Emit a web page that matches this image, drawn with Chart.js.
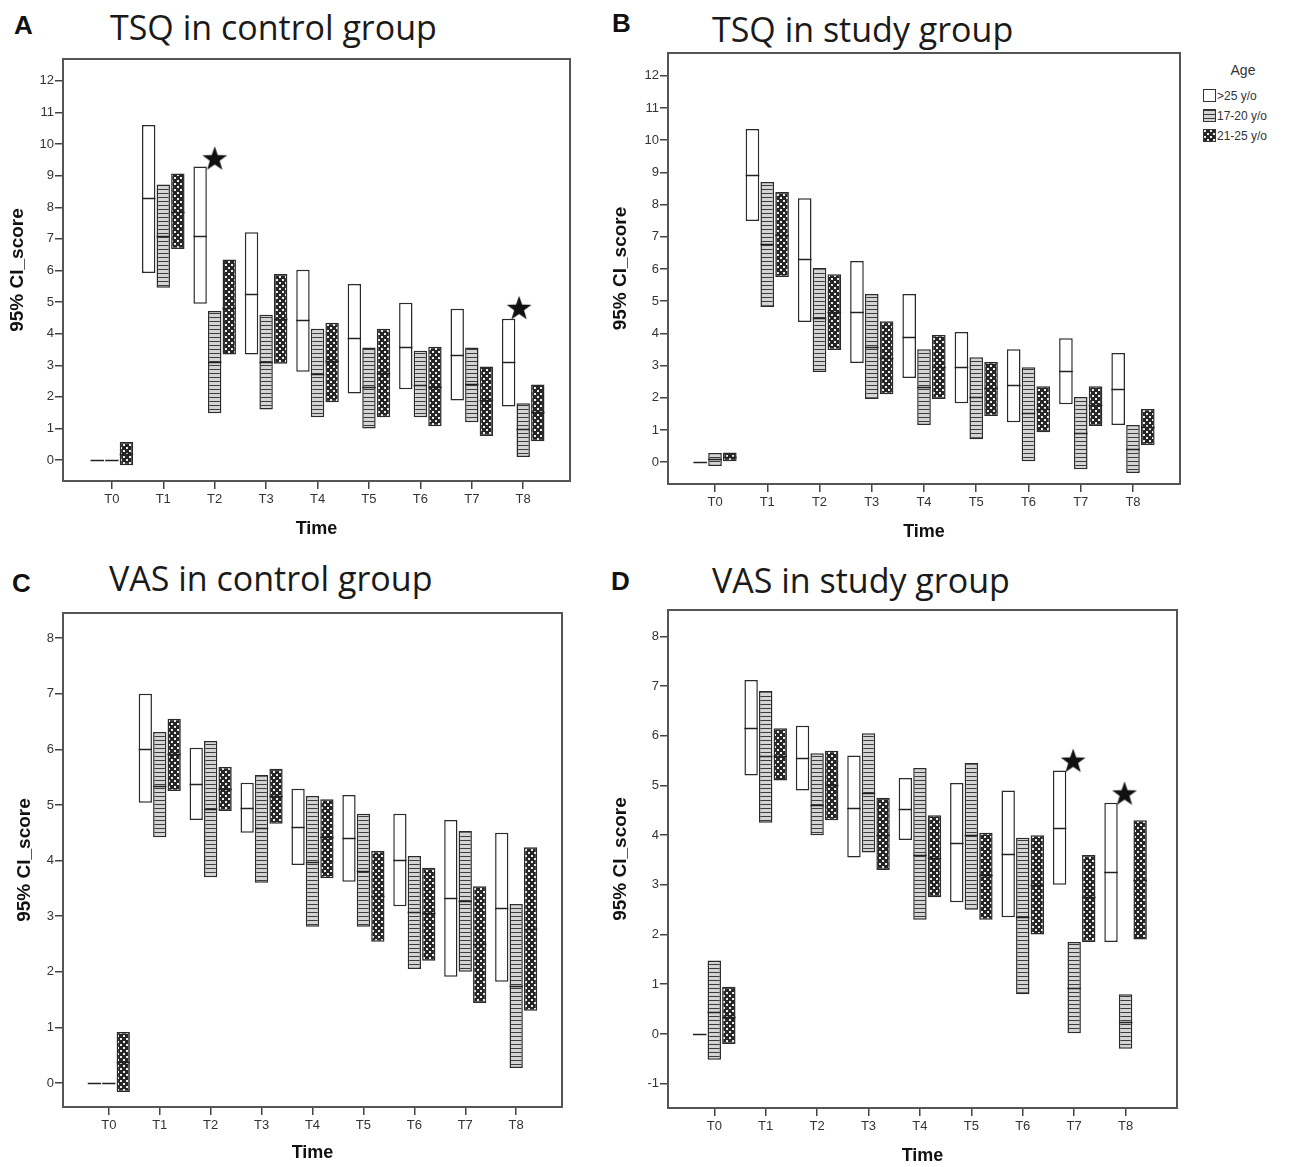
<!DOCTYPE html>
<html>
<head>
<meta charset="utf-8">
<script src="https://cdn.jsdelivr.net/npm/chart.js@4.4.0/dist/chart.umd.min.js"></script>
<style>
  body { margin: 0; width: 1291px; height: 1167px; background: #fff; position: relative; overflow: hidden; }
  canvas { position: absolute; }
  .letter { position: absolute; font: bold 26px 'Liberation Sans', Arial, sans-serif; line-height: 26px; color: #111; }
  .title { position: absolute; font: 34px 'Open Sans', sans-serif; line-height: 34px; color: #1a1a1a; white-space: nowrap; }
  #legend { position: absolute; left: 1203px; top: 62px; font: 12px 'Liberation Sans', Arial, sans-serif; color: #333; }
  #legend .head { font-size: 14px; text-align: center; width: 80px; margin-bottom: 11px; }
  #legend .row { height: 20px; line-height: 14px; white-space: nowrap; }
  #legend .sw { display: inline-block; width: 11px; height: 11px; border: 1px solid #333; vertical-align: -2px; margin-right: 1px; }
</style>
</head>
<body>
<div class="letter" style="left:14px;top:12px">A</div>
<div class="title" style="left:110px;top:10px">TSQ in control group</div>
<div class="letter" style="left:612px;top:10px">B</div>
<div class="title" style="left:712px;top:12px">TSQ in study group</div>
<div class="letter" style="left:12px;top:570px">C</div>
<div class="title" style="left:109px;top:561px">VAS in control group</div>
<div class="letter" style="left:611px;top:568px">D</div>
<div class="title" style="left:712px;top:563px">VAS in study group</div>

<canvas id="cA" width="600" height="500" style="left:0;top:45px"></canvas>
<canvas id="cB" width="600" height="504" style="left:600px;top:41px"></canvas>
<canvas id="cC" width="600" height="567" style="left:0;top:600px"></canvas>
<canvas id="cD" width="600" height="571" style="left:600px;top:596px"></canvas>

<div id="legend">
  <div class="head">Age</div>
  <div class="row"><span class="sw" id="sw0"></span><span id="lg0"></span></div>
  <div class="row"><span class="sw" id="sw1"></span><span id="lg1"></span></div>
  <div class="row"><span class="sw" id="sw2"></span><span id="lg2"></span></div>
</div>

<script>
// categories
const timeLabels = ['T0', 'T1', 'T2', 'T3', 'T4', 'T5', 'T6', 'T7', 'T8'];
const timePoints = [0, 1, 2, 3, 4, 5, 6, 7, 8];
const ageGroups = ['>25 y/o', '17-20 y/o', '21-25 y/o'];

// tick labels
const tsqTicks = [0, 1, 2, 3, 4, 5, 6, 7, 8, 9, 10, 11, 12];
const vasCtrlTicks = [0, 1, 2, 3, 4, 5, 6, 7, 8];
const vasStudyTicks = [-1, 0, 1, 2, 3, 4, 5, 6, 7, 8];

// A: TSQ in control group, 95% CI [low, high] and mean
const tsqCtrlOver25 = [[0, 0], [5.92, 10.6], [4.95, 9.29], [3.34, 7.21], [2.8, 6.02], [2.11, 5.57], [2.24, 4.98], [1.89, 4.79], [1.7, 4.47]];
const tsqCtrlOver25Mean = [0, 8.28, 7.09, 5.26, 4.44, 3.87, 3.59, 3.34, 3.09];
const tsqCtrl1720 = [[0, 0], [5.45, 8.72], [1.48, 4.72], [1.6, 4.6], [1.36, 4.16], [1.0, 3.56], [1.36, 3.46], [1.2, 3.56], [0.1, 1.8]];
const tsqCtrl1720Mean = [0, 7.09, 3.09, 3.09, 2.74, 2.31, 2.39, 2.42, 0.98];
const tsqCtrl2125 = [[-0.16, 0.57], [6.68, 9.07], [3.34, 6.35], [3.05, 5.89], [1.83, 4.35], [1.36, 4.16], [1.07, 3.59], [0.76, 2.96], [0.6, 2.39]];
const tsqCtrl2125Mean = [0.2, 7.85, 4.82, 4.47, 3.15, 2.77, 2.3, 1.89, 1.51];
const tsqCtrlStarX = [2, 7.92];
const tsqCtrlStarY = [9.55, 4.82];

// B: TSQ in study group
const tsqStudyOver25 = [[0, 0], [7.49, 10.35], [4.35, 8.2], [3.08, 6.25], [2.61, 5.22], [1.83, 4.04], [1.24, 3.51], [1.8, 3.85], [1.15, 3.39]];
const tsqStudyOver25Mean = [0, 8.92, 6.3, 4.66, 3.89, 2.95, 2.39, 2.83, 2.27];
const tsqStudy1720 = [[-0.12, 0.28], [4.82, 8.7], [2.8, 6.03], [1.96, 5.22], [1.15, 3.51], [0.71, 3.26], [0.03, 2.95], [-0.22, 2.02], [-0.34, 1.15]];
const tsqStudy1720Mean = [0.1, 6.77, 4.48, 3.58, 2.33, 2.02, 1.52, 0.9, 0.4];
const tsqStudy2125 = [[0.0, 0.3], [5.75, 8.39], [3.48, 5.84], [2.11, 4.38], [1.96, 3.95], [1.43, 3.11], [0.93, 2.36], [1.12, 2.36], [0.53, 1.65]];
const tsqStudy2125Mean = [0.15, 7.06, 4.66, 3.23, 2.95, 2.3, 1.65, 1.77, 1.09];

// C: VAS in control group
const vasCtrlOver25 = [[0, 0], [5.04, 7.0], [4.73, 6.03], [4.5, 5.4], [3.92, 5.29], [3.62, 5.18], [3.18, 4.84], [1.91, 4.73], [1.82, 4.5]];
const vasCtrlOver25Mean = [0, 6.01, 5.38, 4.95, 4.6, 4.41, 4.01, 3.33, 3.15];
const vasCtrl1720 = [[0, 0], [4.42, 6.31], [3.7, 6.15], [3.6, 5.54], [2.81, 5.16], [2.81, 4.84], [2.05, 4.08], [2.0, 4.53], [0.27, 3.22]];
const vasCtrl1720Mean = [0, 5.34, 4.93, 4.59, 3.97, 3.81, 3.08, 3.27, 1.74];
const vasCtrl2125 = [[-0.16, 0.92], [5.25, 6.55], [4.89, 5.68], [4.66, 5.65], [3.68, 5.1], [2.54, 4.17], [2.2, 3.87], [1.44, 3.54], [1.3, 4.24]];
const vasCtrl2125Mean = [0.38, 5.92, 5.29, 5.16, 4.42, 3.37, 3.06, 2.5, 2.77];

// D: VAS in study group
const vasStudyOver25 = [[0, 0], [5.2, 7.12], [4.9, 6.2], [3.55, 5.6], [3.9, 5.15], [2.65, 5.05], [2.35, 4.9], [3.0, 5.3], [1.85, 4.65]];
const vasStudyOver25Mean = [0, 6.15, 5.55, 4.55, 4.52, 3.85, 3.62, 4.15, 3.25];
const vasStudy1720 = [[-0.52, 1.48], [4.25, 6.9], [4.0, 5.65], [3.65, 6.05], [2.3, 5.35], [2.5, 5.45], [0.8, 3.95], [0.0, 1.85], [-0.3, 0.8]];
const vasStudy1720Mean = [0.45, 5.6, 4.6, 4.85, 3.6, 4.0, 2.35, 0.92, 0.25];
const vasStudy2125 = [[-0.2, 0.95], [5.1, 6.15], [4.3, 5.7], [3.3, 4.75], [2.75, 4.4], [2.3, 4.05], [2.0, 4.0], [1.85, 3.6], [1.9, 4.3]];
const vasStudy2125Mean = [0.35, 5.6, 5.0, 4.0, 3.55, 3.2, 3.0, 2.75, 3.1];
const vasStudyStarX = [6.98, 7.98];
const vasStudyStarY = [5.5, 4.84];

// fill patterns (white, horizontal stripes, checks)
function tile(w, h, draw) {
    const c = document.createElement('canvas');
    c.width = w; c.height = h;
    draw(c.getContext('2d'));
    return c;
}
const stripeTile = tile(4, 4, g => {
    g.fillStyle = '#d4d4d4'; g.fillRect(0, 0, 4, 4);
    g.fillStyle = '#3c3c3c'; g.fillRect(0, 0, 4, 1);
});
const checkTile = tile(6, 6, g => {
    g.fillStyle = '#262626'; g.fillRect(0, 0, 6, 6);
    g.fillStyle = '#eeeeee'; g.fillRect(0, 0, 2, 2); g.fillRect(3, 3, 2, 2);
});
const pctx = document.createElement('canvas').getContext('2d');
const fills = ['#ffffff', pctx.createPattern(stripeTile, 'repeat'), pctx.createPattern(checkTile, 'repeat')];

const starImg = tile(26, 26, g => {
    g.fillStyle = '#111';
    g.beginPath();
    for (let i = 0; i < 10; i++) {
        const r = i % 2 ? 5.2 : 13;
        const a = -Math.PI / 2 + i * Math.PI / 5;
        g.lineTo(13 + r * Math.cos(a), 14 + r * Math.sin(a));
    }
    g.closePath();
    g.fill();
});

// legend
ageGroups.forEach((name, i) => {
    document.getElementById('lg' + i).textContent = name;
    const sw = document.getElementById('sw' + i);
    sw.style.background = i === 0 ? '#fff' : 'url(' + (i === 1 ? stripeTile : checkTile).toDataURL() + ')';
});

// mean line inside each CI box, and the frame around the plot
const meanLines = {
    id: 'meanLines',
    afterDatasetsDraw(chart) {
        const ctx = chart.ctx;
        const yScale = chart.scales.y;
        ctx.save();
        ctx.strokeStyle = '#222';
        ctx.lineWidth = 1.5;
        chart.data.datasets.forEach((ds, i) => {
            if (!ds.means) return;
            chart.getDatasetMeta(i).data.forEach((bar, j) => {
                const py = Math.round(yScale.getPixelForValue(ds.means[j])) + 0.5;
                ctx.beginPath();
                ctx.moveTo(bar.x - bar.width / 2, py);
                ctx.lineTo(bar.x + bar.width / 2, py);
                ctx.stroke();
            });
        });
        ctx.restore();
    },
    afterDraw(chart) {
        const a = chart.chartArea;
        const ctx = chart.ctx;
        ctx.save();
        ctx.strokeStyle = '#555';
        ctx.lineWidth = 2;
        ctx.strokeRect(a.left, a.top, a.right - a.left, a.bottom - a.top);
        ctx.restore();
    }
};

function makeChart(id, series, means, starX, starY, yTicks, lay) {
    const datasets = series.map((s, k) => ({
        label: ageGroups[k],
        data: s.map((r, i) => ({ x: timePoints[i], y: r })),
        means: means[k],
        backgroundColor: fills[k],
        borderColor: '#2a2a2a',
        borderWidth: 1.5,
        borderSkipped: false,
        categoryPercentage: 0.85,
        barPercentage: 0.92
    }));
    if (starX) {
        datasets.push({
            type: 'scatter',
            data: starX.map((x, i) => ({ x: x, y: starY[i] })),
            pointStyle: starImg,
            pointRadius: 13
        });
    }
    const tickFont = { family: "'Liberation Sans', Arial, sans-serif", size: 13 };
    const titleFont = { family: "'Liberation Sans', Arial, sans-serif", size: 18, weight: 'bold' };
    const yTitleFont = { family: "'Liberation Sans', Arial, sans-serif", size: 19, weight: 'bold' };
    return new Chart(document.getElementById(id), {
        type: 'bar',
        data: { datasets },
        options: {
            responsive: false,
            animation: false,
            events: [],
            layout: { padding: { top: lay.top, right: lay.right, left: 0, bottom: 0 } },
            plugins: { legend: { display: false }, tooltip: { enabled: false } },
            scales: {
                x: {
                    type: 'linear',
                    min: lay.xMin, max: lay.xMax,
                    offset: false,
                    afterBuildTicks: s => { s.ticks = timePoints.map(v => ({ value: v })); },
                    afterFit: s => { s.height = lay.xh; },
                    ticks: { callback: v => timeLabels[v], color: '#333', font: tickFont, padding: 3, maxRotation: 0 },
                    grid: { drawOnChartArea: false, offset: false, tickLength: 8, color: '#444', lineWidth: 1.5 },
                    border: { display: false },
                    title: { display: true, text: 'Time', color: '#111', font: titleFont, padding: { top: 0, bottom: lay.xtp } }
                },
                y: {
                    min: lay.yMin, max: lay.yMax,
                    afterBuildTicks: s => { s.ticks = yTicks.map(v => ({ value: v })); },
                    afterFit: s => { s.width = lay.yw; },
                    ticks: { color: '#333', font: tickFont, padding: 1 },
                    grid: { drawOnChartArea: false, tickLength: 8, color: '#444', lineWidth: 1.5 },
                    border: { display: false },
                    title: { display: true, text: '95% CI_score', color: '#111', font: yTitleFont, padding: { top: lay.ytp, bottom: 0 } }
                }
            }
        },
        plugins: [meanLines]
    });
}

makeChart('cA',
    [tsqCtrlOver25, tsqCtrl1720, tsqCtrl2125],
    [tsqCtrlOver25Mean, tsqCtrl1720Mean, tsqCtrl2125Mean],
    tsqCtrlStarX, tsqCtrlStarY, tsqTicks,
    { top: 12, right: 30, xh: 64, yw: 63, xMin: -0.95, xMax: 8.91, yMin: -0.66, yMax: 12.69, xtp: 5, ytp: 6 });

makeChart('cB',
    [tsqStudyOver25, tsqStudy1720, tsqStudy2125],
    [tsqStudyOver25Mean, tsqStudy1720Mean, tsqStudy2125Mean],
    null, null, tsqTicks,
    { top: 12, right: 20, xh: 61, yw: 68, xMin: -0.9, xMax: 8.9, yMin: -0.68, yMax: 12.71, xtp: 2, ytp: 9 });

makeChart('cC',
    [vasCtrlOver25, vasCtrl1720, vasCtrl2125],
    [vasCtrlOver25Mean, vasCtrl1720Mean, vasCtrl2125Mean],
    null, null, vasCtrlTicks,
    { top: 13, right: 38, xh: 60, yw: 63, xMin: -0.9, xMax: 8.9, yMin: -0.43, yMax: 8.45, xtp: 3, ytp: 13 });

makeChart('cD',
    [vasStudyOver25, vasStudy1720, vasStudy2125],
    [vasStudyOver25Mean, vasStudy1720Mean, vasStudy2125Mean],
    vasStudyStarX, vasStudyStarY, vasStudyTicks,
    { top: 13, right: 23, xh: 59, yw: 68, xMin: -0.9, xMax: 9.0, yMin: -1.49, yMax: 8.53, xtp: 0, ytp: 9 });
</script>
</body>
</html>
